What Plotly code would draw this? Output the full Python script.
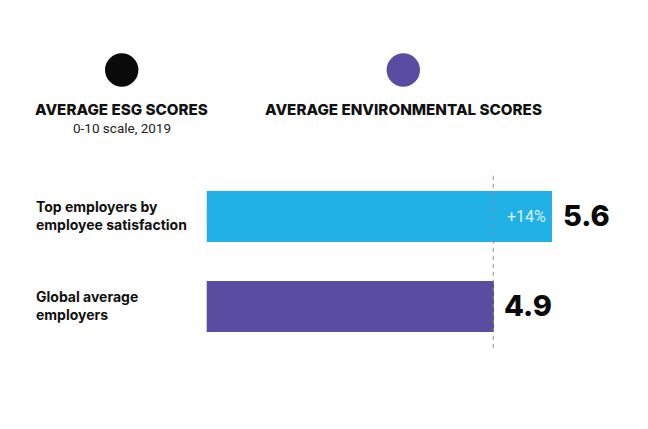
import plotly.graph_objects as go

# Data
categories = ["Global average<br>employers", "Top employers by<br>employee satisfaction"]
values = [4.9, 5.6]
bar_colors = ["#5A4CA0", "#21B1E6"]
value_labels = ["4.9", "5.6"]
diff_label = "+14%"
legend_titles = ["AVERAGE ESG SCORES", "AVERAGE ENVIRONMENTAL SCORES"]
legend_colors = ["#0A0A0A", "#5A4CA0"]
subtitle = "0-10 scale, 2019"

W, H = 648, 429
OFF = 8  # page body margin offset
fig = go.Figure()

fig.add_trace(go.Bar(
    x=values, y=[0, 1], orientation="h",
    marker=dict(color=bar_colors, line=dict(width=0)),
    width=0.572, hoverinfo="skip", showlegend=False,
))

# Value labels right of bars
for i, (v, lab) in enumerate(zip(values, value_labels)):
    fig.add_annotation(x=v, y=i, xref="x", yref="y", text=lab, showarrow=False,
                       xanchor="left", xshift=9, yshift=1,
                       font=dict(family="Inter", size=29, color="#0A0A0A", weight=800))

# +14% inside top bar
fig.add_annotation(x=values[1], y=1, xref="x", yref="y", text=diff_label, showarrow=False,
                   xanchor="right", xshift=-4,
                   font=dict(family="Roboto", size=16, color="rgba(255,255,255,0.85)"))

# Dashed reference line at global average
fig.add_shape(type="line", xref="x", yref="y", x0=values[0], x1=values[0],
              y0=-0.455, y1=1.46, line=dict(color="#8A8A8A", width=1, dash="4px,4px"), layer="above")

# Category labels
for i, c in enumerate(categories):
    fig.add_annotation(x=(34 - OFF) / W, y=i, xref="paper", yref="y", text=c, showarrow=False,
                       xanchor="left", align="left", yshift=1,
                       font=dict(family="Inter", size=14, color="#111111", weight=700))

# Legend circles and titles
centers = [121.7, 403.3]
r = 16.7
cy = 70
for cx, col, t in zip(centers, legend_colors, legend_titles):
    cxp = cx - OFF
    cyp = cy - OFF
    fig.add_shape(type="circle", xref="paper", yref="paper",
                  x0=(cxp - r) / W, x1=(cxp + r) / W,
                  y0=1 - (cyp + r) / H, y1=1 - (cyp - r) / H,
                  fillcolor=col, line=dict(width=0))
    fig.add_annotation(x=cxp / W, y=1 - (109 - OFF) / H, xref="paper", yref="paper", text=t,
                       showarrow=False, xanchor="center", yanchor="middle",
                       font=dict(family="Inter", size=15.2, color="#111111", weight=800))
fig.add_annotation(x=(centers[0] - OFF) / W, y=1 - (127.5 - OFF) / H, xref="paper", yref="paper",
                   text=subtitle, showarrow=False, xanchor="center", yanchor="middle",
                   font=dict(family="Roboto", size=13.5, color="#222222"))

fig.update_layout(
    width=W, height=H, margin=dict(l=0, r=0, t=0, b=0),
    paper_bgcolor="white", plot_bgcolor="white",
    xaxis=dict(domain=[(206.7 - OFF) / W, 1], range=[1.464, 6.851], visible=False, fixedrange=True),
    yaxis=dict(domain=[0, 1], range=[-1.4446, 3.3115], visible=False, fixedrange=True),
    bargap=0,
)

fig.write_html("out.html")
